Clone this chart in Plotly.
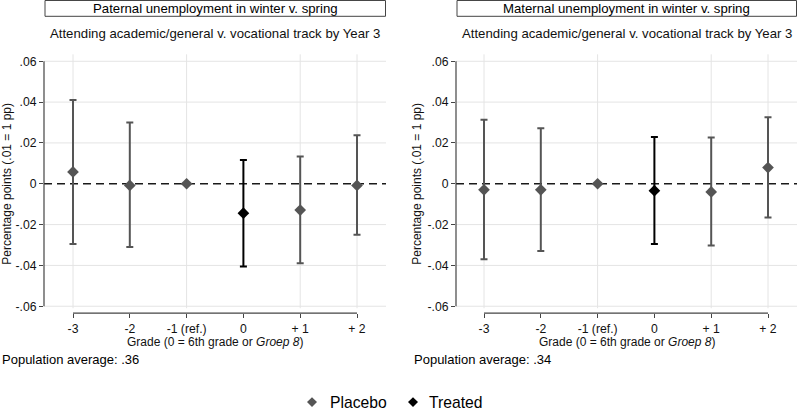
import plotly.graph_objects as go

W, H = 797, 413

categories = ["-3", "-2", "-1 (ref.)", "0", "+ 1", "+ 2"]
y_tickvals = [0.06, 0.04, 0.02, 0.0, -0.02, -0.04, -0.06]
y_ticktext = [".06", ".04", ".02", "0", "-.02", "-.04", "-.06"]

# Paternal panel
pat_est = [0.0058, -0.0008, 0.0, -0.0144, -0.0129, -0.0008]
pat_hi = [0.0410, 0.0300, None, 0.0116, 0.0134, 0.0237]
pat_lo = [-0.0295, -0.0310, None, -0.0405, -0.0390, -0.0250]

# Maternal panel
mat_est = [-0.0030, -0.0030, 0.0, -0.0034, -0.0040, 0.0079]
mat_hi = [0.0313, 0.0272, None, 0.0229, 0.0226, 0.0326]
mat_lo = [-0.0370, -0.0330, None, -0.0295, -0.0303, -0.0165]

treated_idx = 3
panel_titles = ["Paternal unemployment in winter v. spring",
                "Maternal unemployment in winter v. spring"]
subtitle = "Attending academic/general v. vocational track by Year 3"
pop_avg = ["Population average: .36", "Population average: .34"]
xtitle = "Grade (0 = 6th grade or <i>Groep 8</i>)"
ytitle = "Percentage points (.01 = 1 pp)"
legend_names = ["Placebo", "Treated"]

FONT = "Liberation Sans, Arial, sans-serif"
PLACEBO = "#555555"
TREATED = "#000000"
GRID = "#e4e4e4"
AXIS = "#444444"

def px_x(p):
    return p / W

def px_y(p):
    return (H - p) / H

panels = [
    dict(x0=44, x1=386, tick0=73, tick5=357, est=pat_est, hi=pat_hi, lo=pat_lo, ytx=7, popx=0),
    dict(x0=456, x1=797, tick0=484, tick5=768, est=mat_est, hi=mat_hi, lo=mat_lo, ytx=417, popx=412),
]
plot_top, plot_bot = 55, 312
yv_top_px, yv_bot_px = 62, 310  # pixel rows of .06 and -.06
scale = 0.12 / (yv_bot_px - yv_top_px)
y_range = [-0.06 - (plot_bot - yv_bot_px) * scale, 0.06 + (yv_top_px - plot_top) * scale]
xaxis_px = 317

fig = go.Figure()
shapes = []
annotations = []

for i, p in enumerate(panels):
    xa = "x" if i == 0 else "x2"
    ya = "y" if i == 0 else "y2"
    est, hi, lo = p["est"], p["hi"], p["lo"]
    plc = [j for j in range(6) if j != treated_idx]
    for name, idxs, col in [("Placebo", plc, PLACEBO), ("Treated", [treated_idx], TREATED)]:
        xs = [categories[j] for j in idxs]
        ys = [est[j] for j in idxs]
        up = [(hi[j] - est[j]) if hi[j] is not None else None for j in idxs]
        dn = [(est[j] - lo[j]) if lo[j] is not None else None for j in idxs]
        fig.add_trace(go.Scatter(
            x=xs, y=ys, mode="markers", name=name,
            xaxis=xa, yaxis=ya, showlegend=False,
            marker=dict(symbol="diamond", size=9, color=col),
            error_y=dict(type="data", symmetric=False, array=up, arrayminus=dn,
                         color=col, thickness=2, width=3.5),
        ))

    ppu = (p["tick5"] - p["tick0"]) / 5
    xr = [-(p["tick0"] - p["x0"]) / ppu, 5 + (p["x1"] - p["tick5"]) / ppu]
    suffix = "" if i == 0 else "2"
    fig.update_layout(**{
        "xaxis" + suffix: dict(
            domain=[px_x(p["x0"]), px_x(p["x1"])], type="category",
            categoryorder="array", categoryarray=categories,
            range=xr, anchor="free", position=px_y(xaxis_px),
            showgrid=False, showline=False, zeroline=False,
            ticks="outside", ticklen=4, tickcolor=AXIS, tickwidth=1,
            tickfont=dict(family=FONT, size=12.2, color="#111111"),
            fixedrange=True,
        ),
        "yaxis" + suffix: dict(
            domain=[px_y(plot_bot), px_y(plot_top)], range=y_range,
            anchor=xa,
            tickvals=y_tickvals, ticktext=y_ticktext,
            showgrid=False, showline=False, zeroline=False,
            ticks="outside", ticklen=4, tickcolor=AXIS, tickwidth=1,
            tickfont=dict(family=FONT, size=12.2, color="#111111"),
            fixedrange=True,
        ),
    })

    # gridlines (drawn as shapes so the zero line can sit above them)
    for c in categories:
        shapes.append(dict(type="line", xref=xa, yref=ya + " domain", x0=c, x1=c,
                           y0=0, y1=1, line=dict(color=GRID, width=1), layer="below"))
    for v in y_tickvals:
        if v == 0:
            continue
        shapes.append(dict(type="line", xref=xa + " domain", yref=ya, x0=0, x1=1,
                           y0=v, y1=v, line=dict(color=GRID, width=1), layer="below"))
    # dashed zero line
    shapes.append(dict(type="line", xref=xa + " domain", yref=ya, x0=0, x1=1,
                       y0=0, y1=0, line=dict(color="#1a1a1a", width=1.3, dash="8px,5px"),
                       layer="below"))
    # y axis line (only over tick range)
    shapes.append(dict(type="line", xref=xa + " domain", yref=ya, x0=0, x1=0,
                       y0=-0.06, y1=0.06, line=dict(color=AXIS, width=1.2)))
    # x axis line (only over tick range)
    shapes.append(dict(type="line", xref=xa, yref="paper", x0=0, x1=5,
                       y0=px_y(xaxis_px), y1=px_y(xaxis_px),
                       line=dict(color=AXIS, width=1.2)))
    # title box
    shapes.append(dict(type="rect", xref="paper", yref="paper",
                       x0=px_x(p["x0"] + 1), x1=px_x(p["x1"] - 0.5),
                       y0=px_y(16.5), y1=px_y(0.5),
                       line=dict(color=AXIS, width=1), fillcolor="white"))
    cx = px_x((p["x0"] + p["x1"]) / 2)
    annotations.append(dict(text=panel_titles[i], xref="paper", yref="paper",
                            x=cx, y=px_y(8.5), showarrow=False, xanchor="center", yanchor="middle",
                            font=dict(family=FONT, size=13.2, color="#000000")))
    annotations.append(dict(text=subtitle, xref="paper", yref="paper",
                            x=cx, y=px_y(34), showarrow=False, xanchor="center", yanchor="middle",
                            font=dict(family=FONT, size=13.2, color="#111111")))
    annotations.append(dict(text=xtitle, xref="paper", yref="paper",
                            x=cx, y=px_y(346), showarrow=False, xanchor="center", yanchor="middle",
                            font=dict(family=FONT, size=12, color="#111111")))
    annotations.append(dict(text=ytitle, xref="paper", yref="paper",
                            x=px_x(p["ytx"]), y=px_y(186), showarrow=False, textangle=-90,
                            xanchor="center", yanchor="middle",
                            font=dict(family=FONT, size=12, color="#111111")))
    annotations.append(dict(text=pop_avg[i], xref="paper", yref="paper",
                            x=px_x(p["popx"]), y=px_y(364), showarrow=False,
                            xanchor="left", yanchor="middle",
                            font=dict(family=FONT, size=13, color="#000000")))

# legend (drawn manually)
legend_items = [(312, 328, PLACEBO), (413, 427, TREATED)]
ly = 407
for (dx, tx, col), name in zip(legend_items, legend_names):
    r = 5
    path = (f"M {px_x(dx - r)},{px_y(ly)} L {px_x(dx)},{px_y(ly - r)} "
            f"L {px_x(dx + r)},{px_y(ly)} L {px_x(dx)},{px_y(ly + r)} Z")
    shapes.append(dict(type="path", xref="paper", yref="paper", path=path,
                       fillcolor=col, line=dict(width=0)))
    annotations.append(dict(text=name, xref="paper", yref="paper",
                            x=px_x(tx), y=px_y(ly), showarrow=False,
                            xanchor="left", yanchor="middle",
                            font=dict(family=FONT, size=15.7, color="#000000")))

fig.update_layout(
    width=W, height=H,
    margin=dict(l=0, r=0, t=0, b=0),
    paper_bgcolor="white", plot_bgcolor="white",
    shapes=shapes, annotations=annotations,
    showlegend=False,
)

fig.write_html(
    "out.html",
    config={"displayModeBar": False},
    post_script="document.body.style.margin='0';document.body.style.overflow='hidden';",
)
